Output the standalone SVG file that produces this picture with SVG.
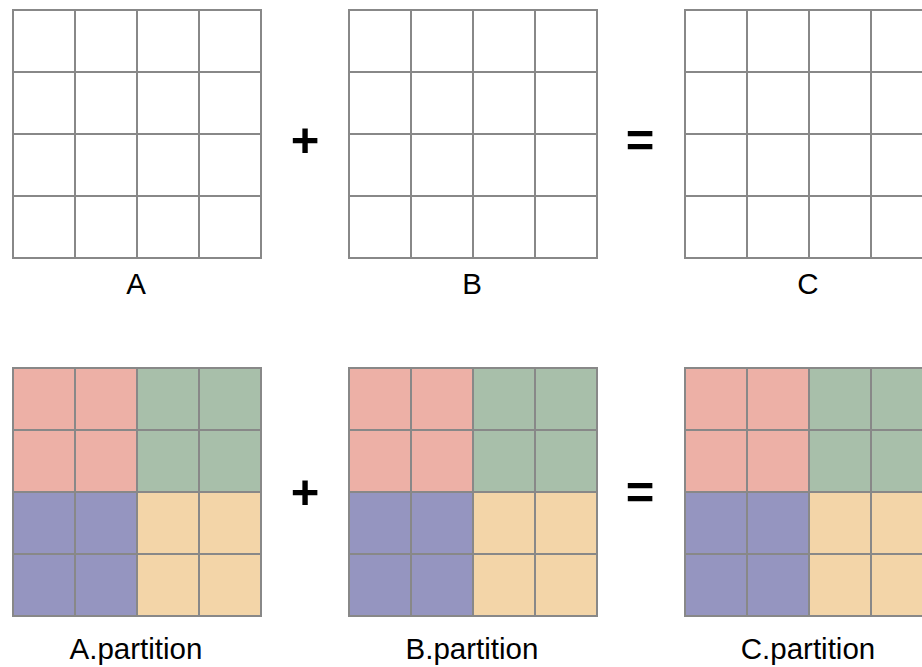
<svg xmlns="http://www.w3.org/2000/svg" width="922" height="667" viewBox="0 0 922 667">
<defs>
<style>
.g{fill:none;stroke:#888888;stroke-width:2}
.w{fill:#ffffff}
.r{fill:#EDB0A6}
.gr{fill:#A8BFAA}
.p{fill:#9595C0}
.y{fill:#F3D5A8}
.lbl{font-family:"Liberation Sans",Arial,sans-serif;font-size:29.5px;fill:#000;text-anchor:middle}
.op{font-family:"Liberation Sans",Arial,sans-serif;font-size:49px;font-weight:bold;fill:#000;text-anchor:middle}
</style>
<g id="grid">
<path class="g" d="M0,0H248V248H0Z M62,0V248 M124,0V248 M186,0V248 M0,62H248 M0,124H248 M0,186H248"/>
</g>
<g id="colors">
<rect class="r" x="0" y="0" width="124" height="124"/>
<rect class="gr" x="124" y="0" width="124" height="124"/>
<rect class="p" x="0" y="124" width="124" height="124"/>
<rect class="y" x="124" y="124" width="124" height="124"/>
</g>
</defs>
<g id="A">
<rect class="w" x="13" y="10" width="248" height="248"/>
<use href="#grid" x="13" y="10"/>
<text class="lbl" x="136" y="294">A</text>
</g>
<g id="B">
<rect class="w" x="349" y="10" width="248" height="248"/>
<use href="#grid" x="349" y="10"/>
<text class="lbl" x="472" y="294">B</text>
</g>
<g id="C">
<rect class="w" x="685" y="10" width="248" height="248"/>
<use href="#grid" x="685" y="10"/>
<text class="lbl" x="808" y="294">C</text>
</g>
<g id="A_partition">
<use href="#colors" x="13" y="368"/>
<use href="#grid" x="13" y="368"/>
<text class="lbl" x="136" y="659">A.partition</text>
</g>
<g id="B_partition">
<use href="#colors" x="349" y="368"/>
<use href="#grid" x="349" y="368"/>
<text class="lbl" x="472" y="659">B.partition</text>
</g>
<g id="C_partition">
<use href="#colors" x="685" y="368"/>
<use href="#grid" x="685" y="368"/>
<text class="lbl" x="808" y="659">C.partition</text>
</g>
<g id="operators">
<text class="op" x="305" y="157">+</text>
<text class="op" x="640" y="157">=</text>
<text class="op" x="305" y="509">+</text>
<text class="op" x="640" y="509">=</text>
</g>
</svg>
